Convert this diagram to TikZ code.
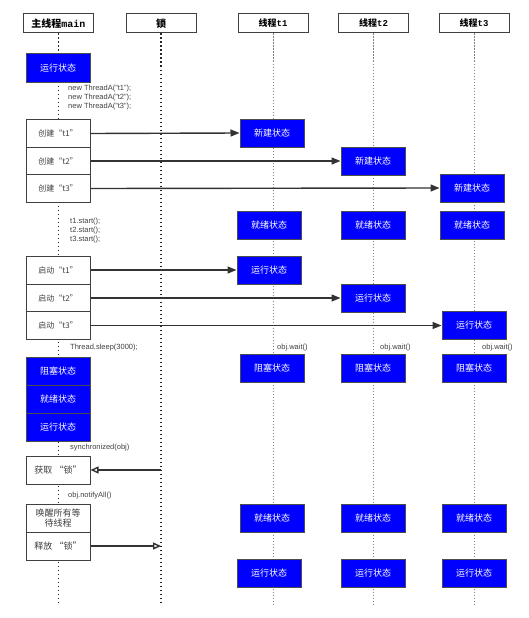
\documentclass[tikz,border=0pt]{standalone}
\usepackage{fontspec}
\setmainfont{Liberation Sans}
\setmonofont{Liberation Mono}
\newfontfamily\cjk{Noto Sans CJK SC}
\usetikzlibrary{arrows.meta}

\begin{document}
\begin{tikzpicture}[x=1pt, y=-1pt,
  head/.style={draw=black!75, line width=1pt, fill=white, minimum width=70pt,
    minimum height=19pt, inner sep=0pt, font=\cjk\bfseries\fontsize{9}{10}\selectfont},
  state/.style={draw=black!70, line width=1pt, fill=blue, text=white, minimum width=64pt,
    minimum height=28pt, inner sep=0pt, font=\cjk\fontsize{9}{10}\selectfont},
  act/.style={draw=black!75, line width=1pt, fill=white, text=black!75, minimum width=64pt,
    minimum height=28pt, inner sep=0pt, align=center, font=\cjk\fontsize{8}{10}\selectfont},
  life/.style={black!85, line width=1.2pt, dash pattern=on 1.5pt off 2.5pt},
  tlife/.style={black!50, line width=1pt, dash pattern=on 1.5pt off 1.5pt},
  msg/.style={draw=black!80, line width=1.4pt, -{Triangle[length=9pt, width=7pt]}},
  lockmsg/.style={draw=black!80, line width=1.4pt, -{Triangle[open, length=8pt, width=7pt]}},
  note/.style={anchor=west, inner sep=0pt, text=black!75, align=left,
    font=\fontsize{7.5}{9}\selectfont}]
  \useasboundingbox (0,0) rectangle (528,618);

  % 表头
  \node[head, font=\cjk\bfseries\fontsize{10}{11}\selectfont] (hmain) at (58.5,23.5) {主线程\texttt{main}};
  \node[head, font=\cjk\bfseries\fontsize{10}{11}\selectfont] (hlock) at (161,23.5) {锁};
  \node[head] (ht1) at (273,23.5) {线程\texttt{t1}};
  \node[head] (ht2) at (373.5,23.5) {线程\texttt{t2}};
  \node[head] (ht3) at (474,23.5) {线程\texttt{t3}};

  % 生命线
  \coordinate (emain) at (58.5,604);
  \coordinate (elock) at (161,604);
  \coordinate (et1) at (273,604);
  \coordinate (et2) at (373.5,604);
  \coordinate (et3) at (474,604);
  \draw[life] (hmain.south) -- (emain);
  \draw[life] (hlock.south) -- (elock);
  \draw[tlife] (ht1.south) -- (et1);
  \draw[tlife] (ht2.south) -- (et2);
  \draw[tlife] (ht3.south) -- (et3);

  % 主线程
  \node[state] (m0) at (58,68) {运行状态};
  \node[note] (n0) at (68,98) {new ThreadA("t1");\\new ThreadA("t2");\\new ThreadA("t3");};

  \node[act, minimum height=27.5pt] (c1) at (58,133.5) {创建“t1”};
  \node[act, minimum height=27.5pt] (c2) at (58,161) {创建“t2”};
  \node[act, minimum height=27.5pt] (c3) at (58,188.5) {创建“t3”};

  \node[note] (n1) at (70,231) {t1.start();\\t2.start();\\t3.start();};

  \node[act] (s1) at (58,270) {启动“t1”};
  \node[act] (s2) at (58,298) {启动“t2”};
  \node[act] (s3) at (58,325.5) {启动“t3”};

  \node[note] (n2) at (70,348) {Thread.sleep(3000);};
  \node[state] (m1) at (58,371) {阻塞状态};
  \node[state] (m2) at (58,399) {就绪状态};
  \node[state] (m3) at (58,427) {运行状态};

  \node[note] (n3) at (70,448) {synchronized(obj)};
  \node[act, font=\cjk\fontsize{9}{10}\selectfont] (get) at (58,470) {获取 “锁”};

  \node[note] (n4) at (68,496) {obj.notifyAll()};
  \node[act, font=\cjk\fontsize{9}{10}\selectfont] (wake) at (58,518) {唤醒所有等\\待线程};
  \node[act, font=\cjk\fontsize{9}{10}\selectfont] (rel) at (58,546) {释放 “锁”};

  % 三个线程
  \node[state] (new1) at (272,133) {新建状态};
  \node[state] (new2) at (373,161) {新建状态};
  \node[state] (new3) at (472,188) {新建状态};

  \node[state] (rd1) at (269,225) {就绪状态};
  \node[state] (rd2) at (373,225) {就绪状态};
  \node[state] (rd3) at (472,225) {就绪状态};

  \node[state] (run1) at (269,270) {运行状态};
  \node[state] (run2) at (373,298) {运行状态};
  \node[state] (run3) at (474,325.5) {运行状态};

  \node[note] (w1) at (277,348) {obj.wait()};
  \node[note] (w2) at (380,348) {obj.wait()};
  \node[note] (w3) at (482,348) {obj.wait()};
  \node[state] (blk1) at (272,368) {阻塞状态};
  \node[state] (blk2) at (373,368) {阻塞状态};
  \node[state] (blk3) at (474,368) {阻塞状态};

  \node[state] (rdy1) at (272,518) {就绪状态};
  \node[state] (rdy2) at (373,518) {就绪状态};
  \node[state] (rdy3) at (474,518) {就绪状态};

  \node[state] (fin1) at (269,573.5) {运行状态};
  \node[state] (fin2) at (373,573.5) {运行状态};
  \node[state] (fin3) at (474,573.5) {运行状态};

  % 消息
  \draw[msg] (c1.east) -- (new1.west);
  \draw[msg] (c2.east) -- (new2.west);
  \draw[msg] (c3.east) -- (new3.west);
  \draw[msg] (s1.east) -- (run1.west);
  \draw[msg] (s2.east) -- (run2.west);
  \draw[msg] (s3.east) -- (run3.west);

  % 锁
  \coordinate (lk1) at (161,470);
  \coordinate (lk2) at (161,546);
  \draw[lockmsg] (lk1) -- (get.east);
  \draw[lockmsg] (rel.east) -- (lk2);
\end{tikzpicture}
\end{document}
